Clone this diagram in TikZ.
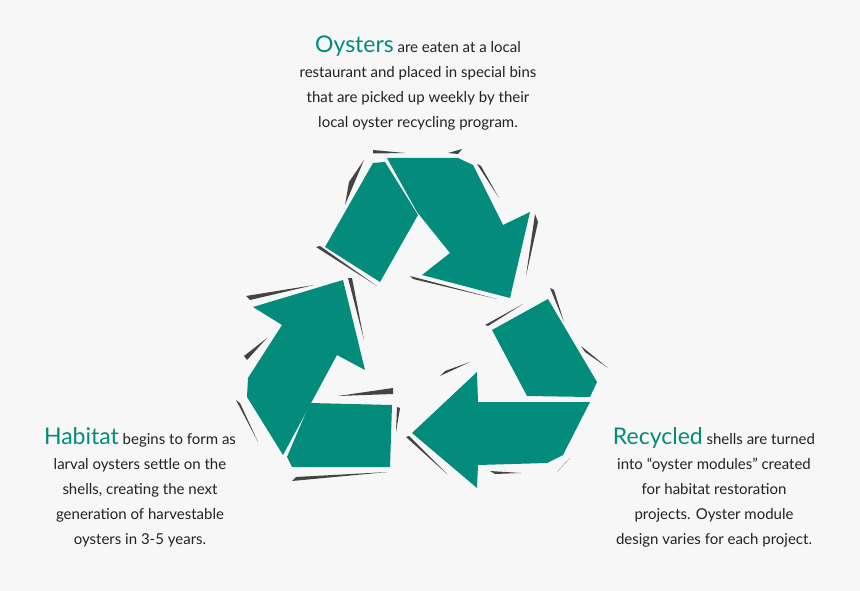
\documentclass[tikz,border=0pt]{standalone}
\usepackage{fontspec}
\setmainfont{Lato}
\definecolor{teal1}{HTML}{038B7B}
\definecolor{bg}{HTML}{F7F7F7}
\definecolor{txt}{HTML}{222222}
\definecolor{sl}{HTML}{444444}
\begin{document}
\begin{tikzpicture}[x=1pt,y=-1pt,
  piece/.style={fill=teal1,draw=none},
  sliv/.style={fill=sl,draw=none},
  lbl/.style={align=center,text=txt,font=\fontsize{15}{25}\selectfont,inner sep=0pt},
  hd/.style={text=teal1,font=\fontsize{23}{25}\selectfont}]
\fill[bg] (0,0) rectangle (860,591);
\useasboundingbox (0,0) rectangle (860,591);
% slivers
\fill[sliv] (373,150)--(405,153)--(373,153.5)--cycle;
\fill[sliv] (448,153)--(462,149)--(458,154)--cycle;
\fill[sliv] (345,205)--(364,160)--(349,182)--cycle;
\fill[sliv] (316,247)--(377,286)--(320,246)--cycle;
\fill[sliv] (477,164)--(499,198)--(481,166)--cycle;
\fill[sliv] (535,214)--(526,276)--(538,222)--cycle;
\fill[sliv] (410,276)--(497,299)--(413,279)--cycle;
\fill[sliv] (485,325)--(523,304)--(488,326)--cycle;
\fill[sliv] (550,288)--(564,322)--(554,290)--cycle;
\fill[sliv] (581,346)--(608,368)--(585,352)--cycle;
\fill[sliv] (406,437)--(447,474)--(409,436)--cycle;
\fill[sliv] (440,376)--(470,362)--(445,371)--cycle;
\fill[sliv] (490,471)--(521,473)--(495,474)--cycle;
\fill[sliv] (570,458)--(557,472)--(566,462)--cycle;
\fill[sliv] (246,296)--(314,285)--(250,300)--cycle;
\fill[sliv] (244,356)--(267,338)--(247,360)--cycle;
\fill[sliv] (236,400)--(258,442)--(240,403)--cycle;
\fill[sliv] (348,278)--(364,340)--(352,278)--cycle;
\fill[sliv] (338,396)--(393,388)--(393,394)--cycle;
\fill[sliv] (397,407)--(396,432)--(400,408)--cycle;
\fill[sliv] (292,481)--(388,472)--(296,477)--cycle;
% pieces
\fill[piece] (325,247)--(373,163)--(385,162)--(418,215)--(380,282)--cycle;
\fill[piece] (387,158)--(458,158)--(473,165)--(503,225)--(530,212)--(510,298)--(422,275)--(450,253)--(417,212)--cycle;
\fill[piece] (492,330)--(548,299)--(597,382)--(590,397)--(527,396)--cycle;
\fill[piece] (477,372)--(478,402)--(590,402)--(563,455)--(547,463)--(478,465)--(477,488)--(412,433)--cycle;
\fill[piece] (253,307)--(343,280)--(365,370)--(337,355)--(283,455)--(247,397)--(248,378)--(282,325)--cycle;
\fill[piece] (287,457)--(310,403)--(392,405)--(390,467)--(292,467)--cycle;
% texts
\node[lbl,anchor=north] (top) at (418,36) {{\fontsize{23}{25}\selectfont\color{teal1}Oysters} are eaten at a local\\restaurant and placed in special bins\\that are picked up weekly by their\\local oyster recycling program.};
\node[lbl,anchor=north] (left) at (140,427) {{\fontsize{23}{25}\selectfont\color{teal1}Habitat} begins to form as\\larval oysters settle on the\\shells, creating the next\\generation of harvestable\\oysters in 3-5 years.};
\node[lbl,anchor=north] (right) at (714,427) {{\fontsize{23}{25}\selectfont\color{teal1}Recycled} shells are turned\\into “oyster modules” created\\for habitat restoration\\projects. Oyster module\\design varies for each project.};
\end{tikzpicture}
\end{document}
